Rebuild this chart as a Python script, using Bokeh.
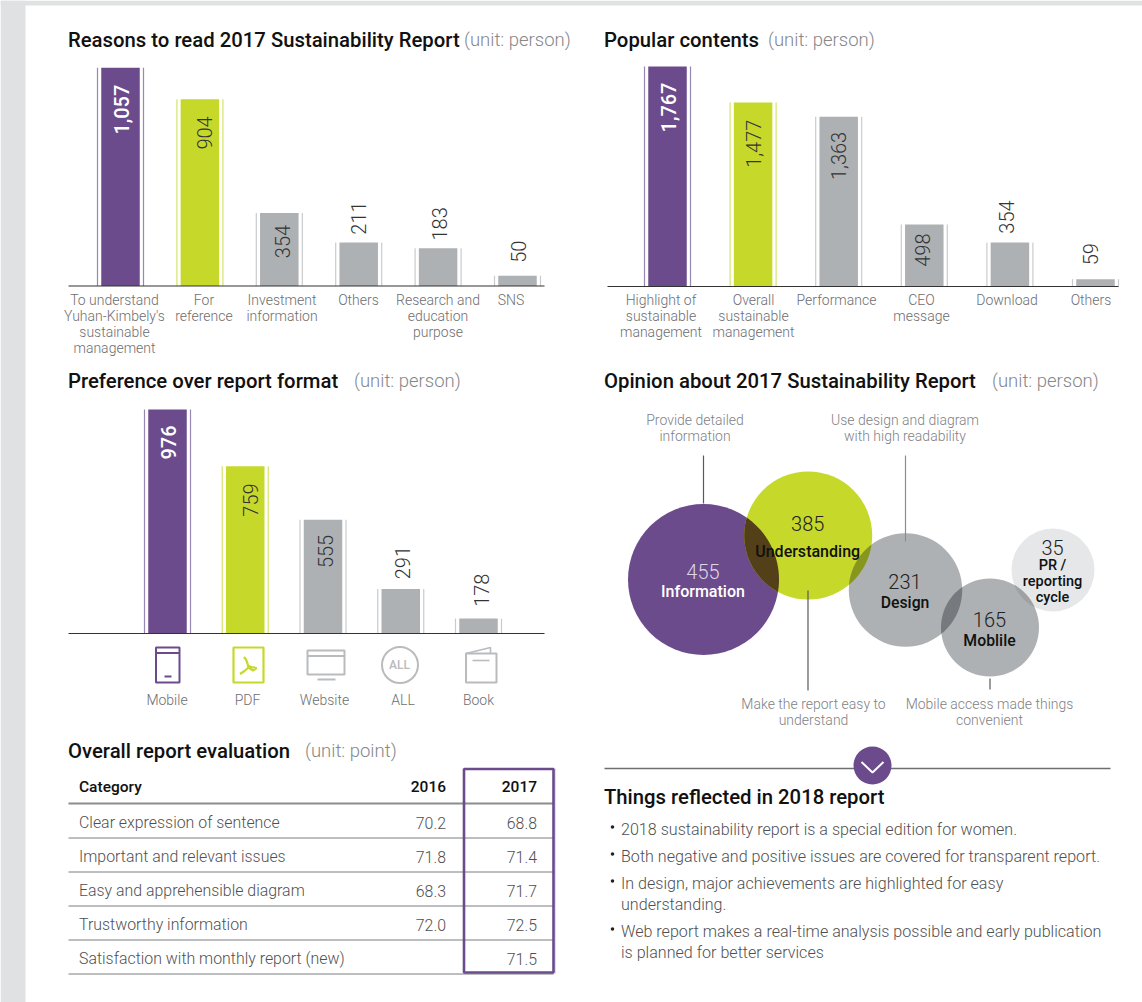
import numpy as np
from bokeh.core.properties import value
from bokeh.embed import file_html
from bokeh.models import Range1d
from bokeh.plotting import figure
from bokeh.resources import INLINE

W, H = 1142, 1002
PURPLE, GREEN, GREY = "#6b4b8c", "#c6d92b", "#aeb1b3"
PAGE_GREY = "#e0e1e3"
LABEL = "#6d6e70"
BODY = "#4f5052"
FONT_B = value("Roboto Medium")
FONT_L = value("Roboto Light")

# ---- data -------------------------------------------------------------------
reasons_values = [1057, 904, 354, 211, 183, 50]
reasons_labels = [["To understand", "Yuhan-Kimbely's", "sustainable", "management"],
                  ["For", "reference"], ["Investment", "information"], ["Others"],
                  ["Research and", "education", "purpose"], ["SNS"]]
contents_values = [1767, 1477, 1363, 498, 354, 59]
contents_labels = [["Highlight of", "sustainable", "management"],
                   ["Overall", "sustainable", "management"], ["Performance"],
                   ["CEO", "message"], ["Download"], ["Others"]]
format_values = [976, 759, 555, 291, 178]
format_labels = ["Mobile", "PDF", "Website", "ALL", "Book"]
opinion_values = [455, 385, 231, 165, 35]
opinion_labels = [["Information"], ["Understanding"], ["Design"], ["Moblile"],
                  ["PR /", "reporting", "cycle"]]
table_rows = ["Clear expression of sentence", "Important and relevant issues",
              "Easy and apprehensible diagram", "Trustworthy information",
              "Satisfaction with monthly report (new)"]
table_2016 = ["70.2", "71.8", "68.3", "72.0", ""]
table_2017 = ["68.8", "71.4", "71.7", "72.5", "71.5"]

p = figure(width=W, height=H, output_backend="svg", toolbar_location=None,
           x_range=Range1d(0, W), y_range=Range1d(H, 0), min_border=0,
           x_axis_type=None, y_axis_type=None, outline_line_color=None,
           background_fill_color="white", border_fill_color="white",
           margin=(0, 0, 0, 0))
p.grid.visible = False


def txt(x, y, s, size, color=BODY, font=FONT_L, align="left", base="middle", angle=0.0, **kw):
    p.text([x - 0.5], [y - 1], text=[s], text_font=font, text_font_size=f"{size}px", text_color=color,
           text_align=align, text_baseline=base, angle=angle, **kw)


# ---- page frame -------------------------------------------------------------
p.quad(left=[0, 0], right=[25, W], bottom=[H, 5], top=[0, 0], fill_color=PAGE_GREY, line_color=None)


def bar_chart(name, values, x0, step, base_y, k, v0, colors, offs, dx):
    """bars through a scale of their own: index -> x pixel, value -> y pixel"""
    xn, yn = f"x{name}", f"y{name}"
    p.extra_x_ranges[xn] = Range1d(-x0 / step, (W - x0) / step)
    p.extra_y_ranges[yn] = Range1d(v0 + (base_y - H) / k, v0 + base_y / k)
    idx = list(range(len(values)))
    side = 23.0 / step
    width = 38.5 / step
    p.vbar(x=idx, top=values, bottom=v0, width=width, fill_color=colors, line_color=None,
           x_range_name=xn, y_range_name=yn)
    lighter = {PURPLE: "#9a86b3", GREEN: "#d6e36b", GREY: "#c9cbcd"}
    for sgn in (-1, 1):
        p.segment([i + sgn * side for i in idx], [v0] * len(idx), [i + sgn * side for i in idx], values,
                  line_color=[lighter[c] for c in colors], line_width=1.2,
                  x_range_name=xn, y_range_name=yn)
    for i, v in enumerate(values):
        big = colors[i] == PURPLE
        s = f"{v:,}"
        p.text([i], [v], text=[s], text_font=FONT_B if big else FONT_L, text_font_size="20px",
               text_color="white" if big else "#333333", text_align="right", text_baseline="middle",
               angle=np.pi / 2, y_offset=offs[i], x_offset=dx[i], x_range_name=xn, y_range_name=yn)


def title(x, y, bold, light, gap):
    txt(x, y, bold, 20.3, "#111111", FONT_B)
    txt(x + gap, y + 0.5, light, 18.5, "#85878a", FONT_L)


C3 = [PURPLE, GREEN, GREY, GREY, GREY, GREY]

# ---- chart 1 ----------------------------------------------------------------
title(68, 40, "Reasons to read 2017 Sustainability Report", "(unit: person)", 396)
bar_chart("1", reasons_values, 120, 79.4, 285.5, 0.2065, 0, C3, [17, 17, 12, -41, -41, -35], [1, 4.5, 3, 0, 1.5, 1])
p.segment([68], [285.5], [544], [285.5], line_color="#333333", line_width=1.2)
for cx, lines in zip([114.5, 204, 282, 358.5, 438, 511], reasons_labels):
    for j, ln in enumerate(lines):
        txt(cx, 300.5 + j * 16, ln, 14, LABEL, align="center")

# ---- chart 2 ----------------------------------------------------------------
title(604, 40, "Popular contents", "(unit: person)", 164)
bar_chart("2", contents_values, 667, 85.6, 286, 0.1245, 0, C3, [16, 17, 15, 9, -42, -36], [1, 0.5, 0, -2, -3.5, -5])
p.segment([607], [286], [1118], [286], line_color="#333333", line_width=1.2)
for cx, lines in zip([661, 753.5, 836.5, 921.5, 1007, 1091], contents_labels):
    for j, ln in enumerate(lines):
        txt(cx, 300.5 + j * 16, ln, 14, LABEL, align="center")

# ---- chart 3 ----------------------------------------------------------------
title(68, 381, "Preference over report format", "(unit: person)", 286)
bar_chart("3", format_values, 167, 77.75, 633, 0.262, 121, C3[:2] + C3[2:5],
          [16, 17, 15, -43, -45], [1, 5, 2.5, 2, 3])
p.segment([68], [633], [544], [633], line_color="#333333", line_width=1.2)
for cx, s in zip([167, 247.5, 324.5, 403, 478.5], format_labels):
    txt(cx, 700.5, s, 14, LABEL, align="center")

# icons
ICON = "#b9bbbd"
p.quad([155.5], [179], [682], [647], fill_color=None, line_color=PURPLE, line_width=2)
p.segment([155.5, 164], [652.5, 676], [179, 171], [652.5, 676], line_color=PURPLE, line_width=2)
p.quad([233], [263], [682], [647], fill_color=None, line_color=GREEN, line_width=2.2)
p.multi_line([[243.5, 245.5, 247, 248, 244, 239.5], [247, 251, 256, 252.5, 248]],
             [[656.5, 659, 663, 667, 670.5, 673.5], [665, 666.5, 667.5, 670, 667]],
             line_color=GREEN, line_width=2.2)
p.quad([307], [344], [674], [650], fill_color=None, line_color=ICON, line_width=2)
p.segment([307, 317], [655.5, 679], [344, 335], [655.5, 679], line_color=ICON, line_width=2)
p.circle([399.5], [664.5], radius=18, fill_color=None, line_color=ICON, line_width=2)
txt(399.5, 665, "ALL", 12, ICON, FONT_B, align="center")
p.quad([465.5], [496], [682], [653], fill_color=None, line_color=ICON, line_width=2)
p.line([465.5, 490, 490], [653, 647, 653], line_color=ICON, line_width=1.6)
p.segment([472], [660], [489], [660], line_color=ICON, line_width=1.6)

# ---- bubbles ----------------------------------------------------------------
title(604, 381, "Opinion about 2017 Sustainability Report", "(unit: person)", 388)
bx = [703, 807.7, 905, 989.5, 1052.5]
by = [579, 535, 589.5, 627, 569.5]
br = [75.5, 64, 56.7, 49, 41.5]
bc = [PURPLE, GREEN, GREY, GREY, "#e6e7e8"]
for i in [4, 0, 1, 2, 3]:
    p.circle([bx[i]], [by[i]], radius=br[i], fill_color=bc[i], line_color=None)


def lens(a, b, color):
    d = np.hypot(bx[a] - bx[b], by[a] - by[b])
    ang_a = np.arctan2(by[b] - by[a], bx[b] - bx[a])
    ha = np.arccos((d**2 + br[a]**2 - br[b]**2) / (2 * d * br[a]))
    hb = np.arccos((d**2 + br[b]**2 - br[a]**2) / (2 * d * br[b]))
    t1 = np.linspace(ang_a - ha, ang_a + ha, 80)
    t2 = np.linspace(ang_a + np.pi - hb, ang_a + np.pi + hb, 80)
    xs = np.r_[bx[a] + br[a] * np.cos(t1), bx[b] + br[b] * np.cos(t2)]
    ys = np.r_[by[a] + br[a] * np.sin(t1), by[b] + br[b] * np.sin(t2)]
    p.patch(xs, ys, fill_color=color, line_color=None)


lens(0, 1, "#534018")
lens(1, 2, "#87971e")
lens(2, 3, "#767a7e")
lens(3, 4, "#9fa1a3")

p.segment([703, 905, 807.5, 989.5], [455, 455, 590, 678], [703, 905, 807.5, 989.5], [503, 541, 690, 689],
          line_color=["#58595b", "#8a8c8e", "#58595b", "#58595b"], line_width=1.2)

num_c = ["#ded6e8", "#222222", "#222222", "#222222", "#222222"]
lab_c = ["white", "#111111", "#111111", "#111111", "#111111"]
num_y = [572, 524, 582, 620, 548]
lab_y = [592, 552, 603, 641, 566]
lab_s = [16, 16, 15.8, 15.8, 14.5]
for i, v in enumerate(opinion_values):
    txt(bx[i], num_y[i], str(v), 20, num_c[i], FONT_L, align="center")
    for j, ln in enumerate(opinion_labels[i]):
        txt(bx[i], lab_y[i] + j * 16, ln, lab_s[i], lab_c[i], FONT_B, align="center")

for cx, y, lines in [(695, 420, ["Provide detailed", "information"]),
                     (905, 420, ["Use design and diagram", "with high readability"]),
                     (813.5, 704, ["Make the report easy to", "understand"]),
                     (989.5, 704, ["Mobile access made things", "convenient"])]:
    for j, ln in enumerate(lines):
        txt(cx, y + j * 16, ln, 14, "#808285", align="center")

# ---- table ------------------------------------------------------------------
title(68, 751, "Overall report evaluation", "(unit: point)", 237)
txt(79, 787, "Category", 15.5, "#111111", FONT_B)
txt(446, 787, "2016", 15.5, "#111111", FONT_B, align="right")
txt(537, 787, "2017", 15.5, "#111111", FONT_B, align="right")
p.segment([68], [803], [553], [803], line_color="#8a8c8e", line_width=2)
for i, name in enumerate(table_rows):
    y = 823 + i * 34
    txt(79, y, name, 15.9, BODY, FONT_L)
    if table_2016[i]:
        txt(446, y, table_2016[i], 15.9, BODY, FONT_L, align="right")
    txt(537, y, table_2017[i], 15.9, BODY, FONT_L, align="right")
    p.segment([68], [837.5 + i * 34], [553], [837.5 + i * 34], line_color="#7a7c7e", line_width=1)
p.segment([554.5], [768], [554.5], [973], line_color="#c9bdd8", line_width=1)
p.quad([463.5], [553], [972], [768.5], fill_color=None, line_color=PURPLE, line_width=2.6)

# ---- reflections ------------------------------------------------------------
p.segment([604], [768], [1110], [768], line_color="#6d6e70", line_width=1.5)
p.circle([872], [765], radius=19, fill_color=PURPLE, line_color=None)
p.line([861, 872, 883], [761.5, 772, 761.5], line_color="white", line_width=2)
txt(604, 797, "Things reflected in 2018 report", 20.3, "#111111", FONT_B)
lines = [("2018 sustainability report is a special edition for women.", 830, True),
         ("Both negative and positive issues are covered for transparent report.", 857, True),
         ("In design, major achievements are highlighted for easy", 884, True),
         ("understanding.", 905, False),
         ("Web report makes a real-time analysis possible and early publication", 932, True),
         ("is planned for better services", 953, False)]
for s, y, dot in lines:
    txt(621, y, s, 16.1, BODY, FONT_L)
    if dot:
        p.circle([612], [y - 3.5], radius=1.8, fill_color="#222222", line_color=None)

open("out.html", "w").write(file_html(p, INLINE))
